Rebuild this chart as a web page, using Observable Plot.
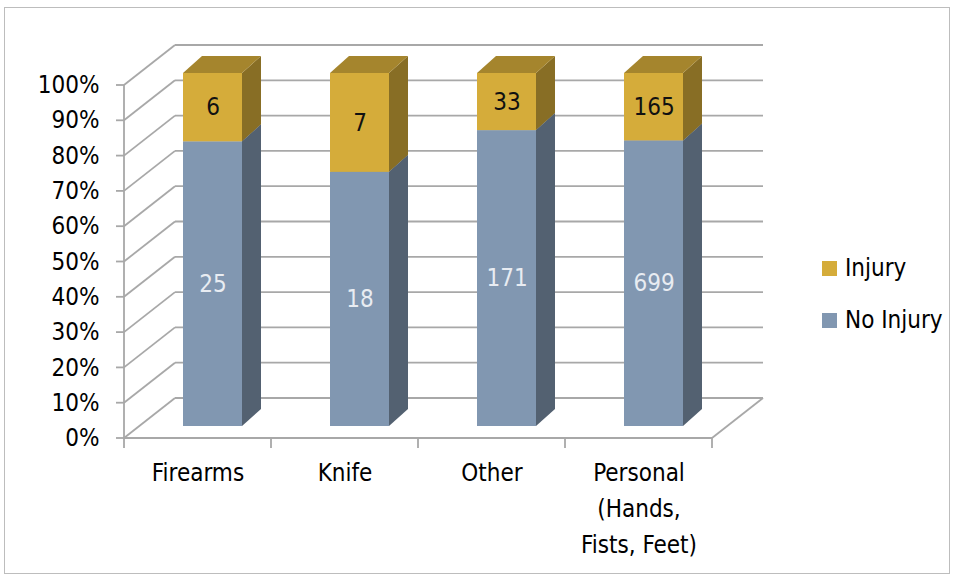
<!DOCTYPE html>
<html>
<head>
<meta charset="utf-8">
<script src="https://cdn.jsdelivr.net/npm/d3@7"></script>
<script src="https://cdn.jsdelivr.net/npm/@observablehq/plot@0.6"></script>
<style>
  html, body { margin: 0; padding: 0; background: #fff; }
  #wrap { position: relative; width: 956px; height: 578px; overflow: hidden;
          font-family: "Liberation Sans Narrow", "DejaVu Sans Condensed", "Liberation Sans", sans-serif; }
  #border { position: absolute; left: 4px; top: 7px; width: 946px; height: 567px;
            border: 1.5px solid #BDBDBD; box-sizing: border-box; }
  #chart { position: absolute; left: 0; top: 0; }
  #legend { position: absolute; left: 822px; top: 250px; font-size: 24px; color: #000; }
  .item { display: flex; align-items: center; height: 36px; margin-bottom: 16px; }
  .sw { width: 15px; height: 15px; margin-right: 8px; }
</style>
</head>
<body>
<div id="wrap">
  <div id="border"></div>
  <div id="chart"></div>
  <div id="legend"></div>
</div>
<script>
// ---- data ----
const categories = ["Firearms", "Knife", "Other", "Personal (Hands, Fists, Feet)"];
const categoryLabels = ["Firearms", "Knife", "Other", "Personal\n(Hands,\nFists, Feet)"];
const noInjury = [25, 18, 171, 699];
const injury = [6, 7, 33, 165];
const series = ["Injury", "No Injury"];
const stackOrder = ["No Injury", "Injury"];
const yTicks = [0, 0.1, 0.2, 0.3, 0.4, 0.5, 0.6, 0.7, 0.8, 0.9, 1];

// ---- style ----
const seriesColors = ["#D5AC3A", "#8197B1"];
const labelColors = {"Injury": "#111111", "No Injury": "#E8ECF2"};
const GRID = "#A8A8A8";
const WALL = {dx: 51, dy: -40};   // depth of the 3D box
const BAR = {dx: 19, dy: -17};    // depth of each bar
const SHIFT = {dx: 15, dy: -12};  // bar offset inside the box
const FONT = '"Liberation Sans Narrow", "DejaVu Sans Condensed", "Liberation Sans", sans-serif';

const rows = categories.flatMap((c, i) => [
  {category: c, type: "No Injury", count: noInjury[i]},
  {category: c, type: "Injury", count: injury[i]}
]);

function frame3d(index, scales, values, dims) {
  const x0 = dims.marginLeft, x1 = dims.width - dims.marginRight;
  const yB = scales.y(0), yT = scales.y(1);
  const g = d3.create("svg:g").attr("stroke", GRID).attr("stroke-width", 1.8).attr("fill", "none");
  const line = (a, b, c, d) => g.append("line").attr("x1", a).attr("y1", b).attr("x2", c).attr("y2", d);
  for (const t of yTicks) {
    const y = scales.y(t);
    line(x0 + WALL.dx, y + WALL.dy, x1 + WALL.dx, y + WALL.dy);   // back wall
    line(x0, y, x0 + WALL.dx, y + WALL.dy);                        // left wall
    line(x0 - 8, y, x0, y);                                        // tick
  }
  line(x0, yB, x0, yT);                                            // y axis
  line(x0, yB, x1, yB);                                            // floor front
  line(x1, yB, x1 + WALL.dx, yB + WALL.dy);                        // floor right
  const bounds = categories.map(c => scales.x(c)).concat([x1]);
  for (const b of bounds) line(b, yB, b, yB + 10);
  return g.node();
}

function bars3d(index, scales, values, dims, ctx, next) {
  const g = next(index, scales, values, dims, ctx);
  const rects = Array.from(g.querySelectorAll("rect"))
    .map(r => ({x: +r.getAttribute("x"), y: +r.getAttribute("y"), w: +r.getAttribute("width"),
                h: +r.getAttribute("height"), f: r.getAttribute("fill")}))
    .sort((a, b) => b.y - a.y);
  const faces = d3.create("svg:g");
  for (const r of rects) {
    const c = d3.color(r.f);
    faces.append("polygon")
      .attr("points", [[r.x + r.w, r.y], [r.x + r.w + BAR.dx, r.y + BAR.dy],
                       [r.x + r.w + BAR.dx, r.y + r.h + BAR.dy], [r.x + r.w, r.y + r.h]].join(" "))
      .attr("fill", c.darker(1.25).formatHex());
    faces.append("polygon")
      .attr("points", [[r.x, r.y], [r.x + BAR.dx, r.y + BAR.dy],
                       [r.x + r.w + BAR.dx, r.y + BAR.dy], [r.x + r.w, r.y]].join(" "))
      .attr("fill", c.darker(0.72).formatHex());
  }
  g.insertBefore(faces.node(), g.firstChild);
  return g;
}

const valueText = (type) => Plot.text(rows, Plot.filter(d => d.type === type, Plot.stackY({
  x: "category", y: "count", z: "type", text: "count", offset: "normalize", order: stackOrder,
  fill: labelColors[type], fontSize: 24, dx: SHIFT.dx, dy: SHIFT.dy
})));

const chart = Plot.plot({
  width: 956, height: 578,
  marginLeft: 124, marginRight: 244, marginTop: 85, marginBottom: 140,
  x: {domain: categories, padding: 0, axis: null},
  y: {domain: [0, 1], axis: null},
  color: {domain: series, range: seriesColors},
  style: {fontFamily: FONT, fontSize: "24px", color: "#000", background: "transparent", overflow: "visible"},
  marks: [
    Plot.ruleY(yTicks, {y: d => d, render: frame3d}),
    Plot.axisY(yTicks, {tickFormat: d3.format(".0%"), tickSize: 0, tickPadding: 25, fontSize: 24, label: null, fill: "#000"}),
    Plot.barY(rows, Plot.stackY({
      x: "category", y: "count", fill: "type", offset: "normalize", order: stackOrder,
      insetLeft: 44, insetRight: 44, dx: SHIFT.dx, dy: SHIFT.dy, render: bars3d
    })),
    valueText("Injury"),
    valueText("No Injury"),
    Plot.text(categories, {
      x: d => d, text: (d, i) => categoryLabels[i], frameAnchor: "bottom", lineAnchor: "top",
      dy: 17, lineHeight: 1.5, fontSize: 24, fill: "#000"
    })
  ]
});
document.getElementById("chart").appendChild(chart);

// legend
const legend = d3.select("#legend");
series.forEach((s, i) => {
  const item = legend.append("div").attr("class", "item");
  item.append("div").attr("class", "sw").style("background", seriesColors[i]);
  item.append("span").text(s);
});
</script>
</body>
</html>
